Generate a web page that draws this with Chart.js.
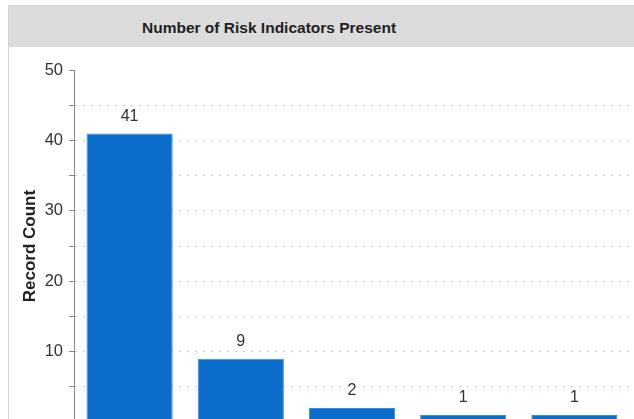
<!DOCTYPE html>
<html>
<head>
<meta charset="utf-8">
<script src="https://cdn.jsdelivr.net/npm/chart.js@4"></script>
<style>
  html, body { margin: 0; padding: 0; overflow: hidden; background: #fff; width: 634px; height: 419px; }
  #frame { position: absolute; left: 8px; top: 5px; width: 700px; height: 500px; border: 1px solid #d4d4d4; }
  #title { height: 41px; background: #dcdcdc; color: #222;
           font: bold 15.5px "Liberation Sans", Arial, sans-serif; line-height: 43px; padding-left: 133px; }
  #wrap { position: absolute; left: 9px; top: 48px; width: 625px; height: 390px; }
</style>
</head>
<body>
<div id="frame"><div id="title">Number of Risk Indicators Present</div></div>
<div id="wrap"><canvas id="chart"></canvas></div>
<script>
// data
const categories = ['1', '2', '3', '4', '5'];
const recordCounts = [41, 9, 2, 1, 1];
const yTicks = [10, 20, 30, 40, 50];

const barLabels = {
    id: 'barLabels',
    afterDatasetsDraw(chart) {
        const ctx = chart.ctx;
        const meta = chart.getDatasetMeta(0);
        ctx.save();
        ctx.font = '16px "Liberation Sans", Arial, sans-serif';
        ctx.fillStyle = '#333';
        ctx.textAlign = 'center';
        ctx.textBaseline = 'bottom';
        meta.data.forEach((bar, i) => {
            ctx.fillText(recordCounts[i], bar.x, bar.y - 9);
        });
        ctx.restore();
    }
};

const chart = new Chart(document.getElementById('chart'), {
    type: 'bar',
    data: {
        labels: categories,
        datasets: [{
            label: 'Record Count',
            data: recordCounts,
            backgroundColor: '#0b6dcb',
            borderColor: '#3d8bdb',
            borderWidth: 1,
            categoryPercentage: 1,
            barPercentage: 0.775
        }]
    },
    options: {
        responsive: true,
        maintainAspectRatio: false,
        animation: false,
        layout: { padding: { top: 22, right: 4, bottom: 13, left: 0 } },
        plugins: {
            legend: { display: false },
            tooltip: { enabled: false }
        },
        scales: {
            x: { display: false },
            y: {
                min: 0,
                max: 50,
                afterFit(scale) { scale.width = 65; },
                ticks: {
                    stepSize: 5,
                    padding: 6,
                    color: '#333',
                    font: { family: '"Liberation Sans", Arial, sans-serif', size: 16.5 },
                    callback: v => yTicks.includes(v) ? v : ''
                },
                grid: {
                    color: c => (c.tick && (c.tick.value === 50 || c.tick.value === 0)) ? 'rgba(0,0,0,0)' : '#cdcdcd',
                    tickColor: '#888',
                    tickLength: 5,
                    tickBorderDash: []
                },
                border: { display: true, color: '#888', width: 1, dash: [2, 6], dashOffset: 0 },
                title: {
                    display: true,
                    text: 'Record Count',
                    color: '#222',
                    padding: { top: 11, bottom: 0 },
                    font: { family: '"Liberation Sans", Arial, sans-serif', size: 17, weight: 'bold' }
                }
            }
        }
    },
    plugins: [barLabels]
});
</script>
</body>
</html>
